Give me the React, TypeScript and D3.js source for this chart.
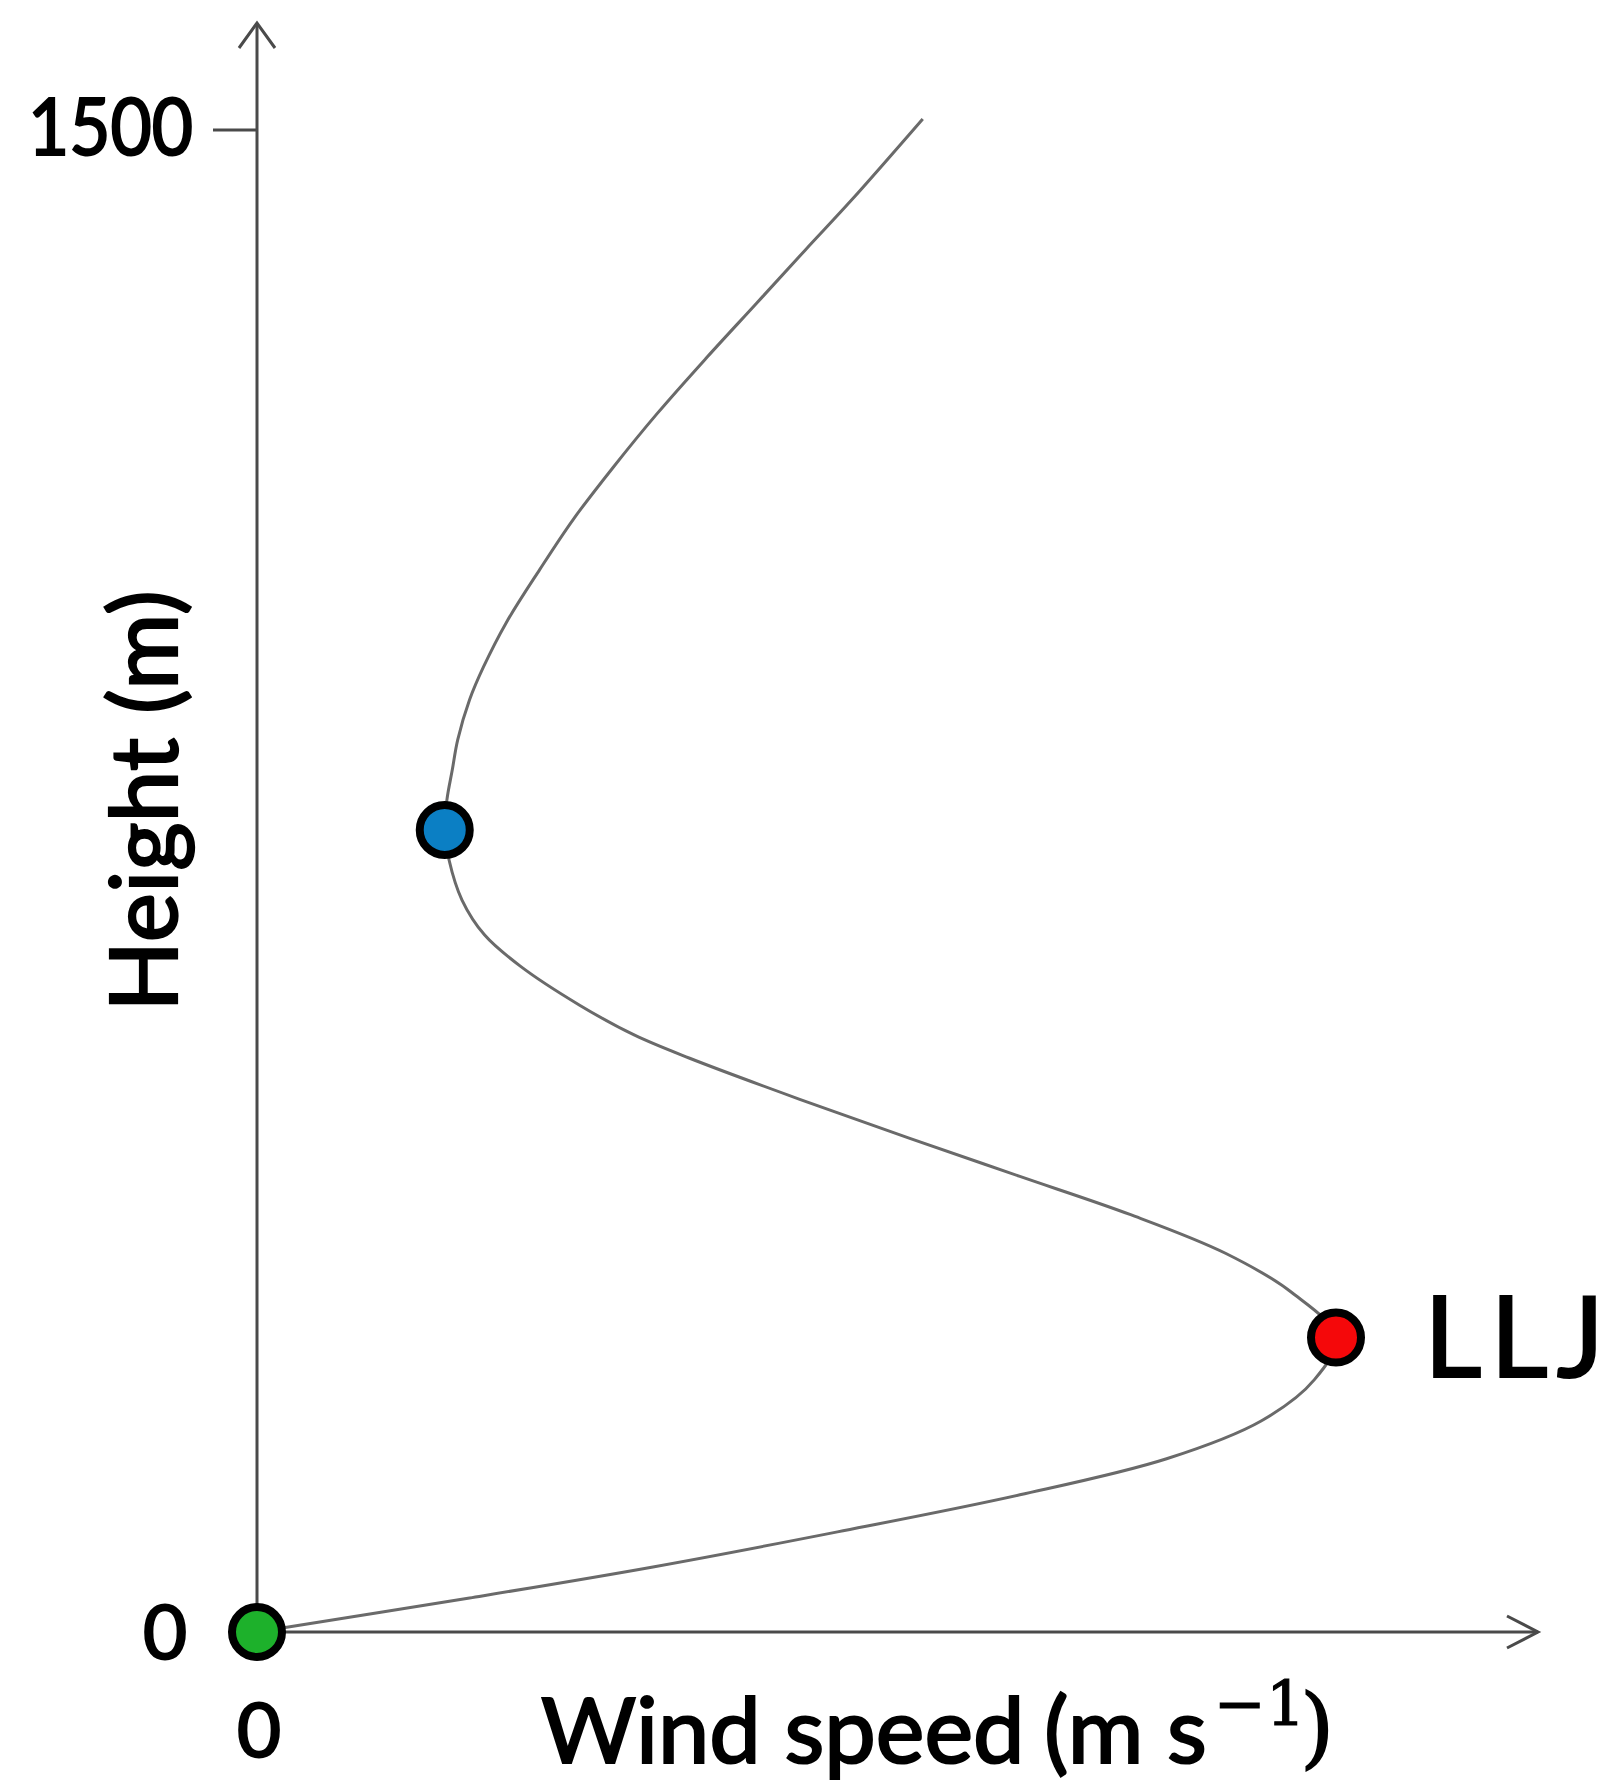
import React from "react";
import * as d3 from "d3";

// Wind-speed profile (normalised speed, LLJ max = 1) vs height (m)
const curveSpeed = [0, 0.197, 0.367, 0.538, 0.707, 0.843, 0.931, 0.98, 1.0, 0.959, 0.898, 0.809, 0.707, 0.605, 0.503, 0.401, 0.35, 0.299, 0.244, 0.211, 0.19, 0.178, 0.174, 0.176, 0.181, 0.186, 0.197, 0.21, 0.231, 0.262, 0.293, 0.33, 0.371, 0.417, 0.463, 0.508, 0.551, 0.617];
const curveHeight = [0, 34, 65, 100, 137, 173, 211, 252, 294, 339, 378, 417, 455, 493, 532, 573, 596, 626, 665, 696, 731, 771, 801, 831, 861, 891, 931, 964, 1008, 1061, 1111, 1163, 1217, 1273, 1327, 1380, 1430, 1511];

const markerNames = ["surface", "minimum", "LLJ"];
const markerSpeed = [0, 0.174, 1.0];
const markerHeight = [0, 801, 294];
const markerColors = ["#1db12b", "#0b7fc4", "#f5080a"];

const yTickValues = [0, 1500];
const xTickValues = [0];
const yTickLabels = ["0", "1500"];

const FONT = "Lato, 'Open Sans', sans-serif";
const SERIF = "'DejaVu Serif', 'Liberation Serif', serif";

export default function App() {
  const W = 1615;
  const H = 1786;
  const x = d3.scaleLinear().domain([0, 1]).range([257, 1336]);
  const y = d3.scaleLinear().domain([0, 1500]).range([1632, 130]);

  const pts: [number, number][] = curveSpeed.map((s, i) => [x(s), y(curveHeight[i])]);
  const line = d3.line().curve(d3.curveCatmullRom.alpha(0.5));
  const path = line(pts) || "";

  const x0 = x(0);
  const y0 = y(0);
  const axisColor = "#4a4a4a";
  const axisTopY = 23;
  const axisRightX = 1538;
  const textStroke = { stroke: "#000", strokeWidth: 2.2 };

  return (
    <svg
      width={W}
      height={H}
      viewBox={`0 0 ${W} ${H}`}
      style={{ position: "absolute", left: 0, top: 0, background: "#fff" }}
    >
      <rect x={0} y={0} width={W} height={H} fill="#fff" />
      {/* y axis */}
      <line x1={x0} y1={y0} x2={x0} y2={axisTopY} stroke={axisColor} strokeWidth={3} />
      <polyline
        points={`${x0 - 18},${axisTopY + 25} ${x0},${axisTopY} ${x0 + 18},${axisTopY + 25}`}
        fill="none"
        stroke={axisColor}
        strokeWidth={3}
      />
      {/* x axis */}
      <line x1={x0} y1={y0} x2={axisRightX} y2={y0} stroke={axisColor} strokeWidth={3} />
      <polyline
        points={`${axisRightX - 31},${y0 - 16} ${axisRightX},${y0} ${axisRightX - 31},${y0 + 16}`}
        fill="none"
        stroke={axisColor}
        strokeWidth={3}
      />
      {/* y ticks */}
      {yTickValues.map((v, i) =>
        v > 0 ? (
          <line key={"t" + i} x1={x0 - 44} x2={x0} y1={y(v)} y2={y(v)} stroke={axisColor} strokeWidth={3} />
        ) : null
      )}
      <text x={193} y={y(1500) + 25} fontFamily={FONT} fontSize={80} textAnchor="end" fill="#000"
        textLength={165} lengthAdjust="spacingAndGlyphs" {...textStroke}>
        {yTickLabels[1]}
      </text>
      <text x={187} y={y(0) + 27} fontFamily={FONT} fontSize={76} textAnchor="end" fill="#000" {...textStroke}>
        {yTickLabels[0]}
      </text>
      {xTickValues.map((v, i) => (
        <text key={"xl" + i} x={x(v) + 2} y={1757} fontFamily={FONT} fontSize={76} textAnchor="middle" fill="#000" {...textStroke}>
          {String(v)}
        </text>
      ))}

      {/* profile curve */}
      <path d={path} fill="none" stroke="#6a6a6a" strokeWidth={3} />

      {/* markers */}
      {markerNames.map((n, i) => (
        <circle
          key={n}
          cx={x(markerSpeed[i])}
          cy={y(markerHeight[i])}
          r={25}
          fill={markerColors[i]}
          stroke="#000"
          strokeWidth={8}
        />
      ))}

      <text x={1424} y={1377} fontFamily={FONT} fontSize={112} fill="#000"
        textLength={180} lengthAdjust="spacing" {...textStroke}>
        LLJ
      </text>

      {/* axis titles */}
      <text
        transform={`translate(177,801) rotate(-90)`}
        fontFamily={FONT}
        fontSize={93}
        textAnchor="middle"
        fill="#000"
        {...textStroke}
      >
        Height (m)
      </text>
      <text x={541} y={1763} fontFamily={FONT} fontSize={92} fill="#000" {...textStroke}>
        Wind speed
      </text>
      <text x={1044} y={1763} fontFamily={FONT} fontSize={92} fill="#000" {...textStroke}>
        (m s
      </text>
      <text x={1214} y={1725} fontFamily={SERIF} fontSize={62} fill="#000" {...textStroke} strokeWidth={1.2}>
        −1
      </text>
      <text x={1300} y={1757} fontFamily={SERIF} fontSize={88} fill="#000" {...textStroke} strokeWidth={1.5}>
        )
      </text>
    </svg>
  );
}
